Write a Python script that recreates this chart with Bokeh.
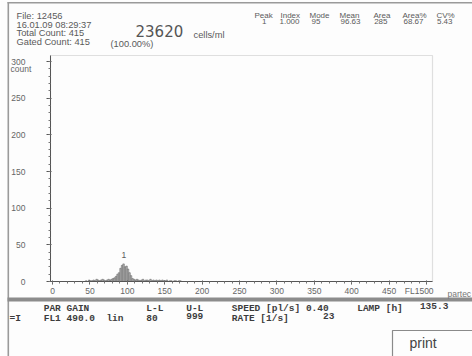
from bokeh.plotting import figure
from bokeh.models import Label, BoxAnnotation, FixedTicker, Range1d
from bokeh.embed import file_html
from bokeh.resources import INLINE

# ---------------- data ----------------
bin_start = [44, 46, 48, 50, 52, 54, 56, 58, 60, 62, 64, 66, 68, 70, 72, 74, 76, 78,
             80, 82, 84, 86, 88, 90, 92, 94, 96, 98, 100, 102, 104, 106, 108,
             110, 112, 114, 116, 118, 120, 122, 124, 126, 128, 130, 132, 134, 136,
             138, 140, 142, 144, 146, 148, 150, 152, 154, 156, 158, 160, 162, 164,
             166, 168, 170]
counts = [1, 0, 2, 1, 1, 2, 1, 3, 2, 1, 2, 3, 2, 1, 2, 3, 2, 3,
          4, 5, 7, 10, 12, 18, 22, 24, 20, 21, 17, 12, 8, 4, 3,
          2, 3, 2, 1, 2, 3, 1, 2, 2, 1, 3, 1, 2, 1,
          2, 1, 2, 1, 2, 1, 1, 2, 0, 1, 1, 0, 1, 1,
          0, 1, 1]
bin_width = 2
x_ticks = [0, 50, 100, 150, 200, 250, 300, 350, 400, 450, 500]
y_ticks = [0, 50, 100, 150, 200, 250, 300]

header_left = ["File: 12456", "16.01.09 08:29:37", "Total Count: 415", "Gated Count: 415"]
concentration = "23620"
conc_unit = "cells/ml"
gated_pct = "(100.00%)"
peak_cols = ["Peak", "Index", "Mode", "Mean", "Area", "Area%", "CV%"]
peak_vals = ["1", "1.000", "95", "96.63", "285", "68.67", "5.43"]

# ---------------- geometry (pixels of the 472x356 page) ----------------
W, H = 472, 356
X0PX, XSC = 52, 0.748      # page x of channel 0, pixels per channel
Y0PX, YSC = 281, 0.733     # page y of count 0, pixels per count
FL, FR, FT, FB = 50, 432, 55, 281   # histogram box on the page


def X(px):
    return (px - X0PX) / XSC


def Y(py):
    return (Y0PX - py) / YSC


p = figure(width=W, height=H, output_backend="svg", toolbar_location=None,
           x_range=Range1d(X(0), X(W)), y_range=Range1d(Y(H), Y(0)),
           min_border=0)
p.background_fill_color = "#fdfdfd"
p.border_fill_color = "#fdfdfd"
p.outline_line_color = None
p.xgrid.visible = False
p.ygrid.visible = False

# histogram box outline
p.add_layout(BoxAnnotation(left=X(FL), right=X(FR), top=Y(FT), bottom=Y(FB),
                           fill_alpha=0, line_color="#9a9a9a", line_width=1.2,
                           level="underlay"))

p.quad(left=bin_start, right=[b + bin_width for b in bin_start], bottom=0, top=counts,
       fill_color="#b8b8b8", line_color="#6a6a6a", line_width=0.6)

# axes fixed inside the canvas
ax = p.xaxis[0]
ax.fixed_location = 0
ax.bounds = (X(FL), X(FR))
ax.ticker = FixedTicker(ticks=x_ticks, minor_ticks=list(range(0, 510, 10)))
ax.axis_line_color = "#555555"
ax.major_tick_line_color = "#555555"
ax.minor_tick_line_color = "#777777"
ax.major_tick_out = 3
ax.major_tick_in = 1
ax.minor_tick_out = 2
ax.minor_tick_in = 0
ax.major_label_standoff = 3
ax.major_label_text_font = "Liberation Sans"
ax.major_label_text_font_size = "8.5px"
ax.major_label_text_color = "#666666"

ay = p.yaxis[0]
ay.fixed_location = X(FL)
ay.bounds = (0, Y(FT))
ay.ticker = FixedTicker(ticks=y_ticks, minor_ticks=list(range(0, 310, 10)))
ay.axis_line_color = "#555555"
ay.major_tick_line_color = "#555555"
ay.minor_tick_line_color = "#777777"
ay.major_tick_out = 4
ay.major_tick_in = 1
ay.minor_tick_out = 2
ay.minor_tick_in = 0
ay.major_label_standoff = 21
ay.major_label_text_font = "Liberation Sans"
ay.major_label_text_font_size = "8.5px"
ay.major_label_text_color = "#666666"


def lab(text, px, py, size="9.3px", color="#5a5a5a", font="Liberation Sans",
        align="left", style="normal", baseline="top"):
    p.add_layout(Label(x=X(px), y=Y(py), text=text, text_font_size=size,
                       text_color=color, text_font=font, text_align=align,
                       text_baseline=baseline, text_font_style=style))


def box(l, r, t, b, fill=None, line=None, lw=1):
    p.add_layout(BoxAnnotation(left=X(l), right=X(r), top=Y(t), bottom=Y(b),
                               fill_color=fill if fill else "white",
                               fill_alpha=1 if fill else 0,
                               line_color=line if line else "white",
                               line_alpha=1 if line else 0, line_width=lw))


# outer borders and separator
box(7, W + 5, 1.5, 3, fill="#9a9a9a")
box(7, 8.6, 1.5, H + 5, fill="#9a9a9a")
box(7, W + 5, 297, 301, fill="#8c8c8c")

# header, left block
for i, t in enumerate(header_left):
    lab(t, 16, 10.5 + i * 8.7)
lab(concentration, 135, 24.5, size="15px", font="DejaVu Sans", color="#555555")
lab(conc_unit, 193, 29.5)
lab(gated_pct, 110, 38.5)

# header, peak table
col_x = [254, 280, 309, 339, 373, 402, 436]
val_right = [266, 299, 320, 360, 387, 423, 452]
for cx, t in zip(col_x, peak_cols):
    lab(t, cx, 10.5, size="8px")
for vx, t in zip(val_right, peak_vals):
    lab(t, vx, 18.5, size="8px", align="right")

# axis annotations
lab("count", 10, 63.5, size="8.5px", color="#666666")
lab("FL1", 419, 285.5, size="8.5px", color="#666666", align="right")
lab("partec", 447, 288.5, size="8.5px", color="#777777")
lab("1", 121, 257, size="8.5px", baseline="bottom")

# bottom panel (monospace)
mono = "Liberation Mono"
mc = "#3c3c3c"
cw = 5.7
x0 = 9
row1 = [(6, "PAR GAIN"), (24, "L-L"), (31, "U-L"), (39, "SPEED [pl/s] 0.40"),
        (61, "LAMP [h]"), (72, "135.3")]
row2 = [(0, "=I"), (6, "FL1 490.0"), (17, "lin"), (24, " 80"), (31, "999"),
        (39, "RATE  [1/s]"), (55, "23")]
for c, t in row1:
    lab(t, x0 + c * cw, 302.5, size="9.5px", font=mono, color=mc, style="bold")
for c, t in row2:
    lab(t, x0 + c * cw, 312, size="9.5px", font=mono, color=mc, style="bold")

# print button
box(392, W + 5, 330, H + 5, line="#8a8a8a", lw=1.2)
lab("print", 409, 334, size="14px", color="#444444")

open("out.html", "w").write(file_html(p, INLINE))
